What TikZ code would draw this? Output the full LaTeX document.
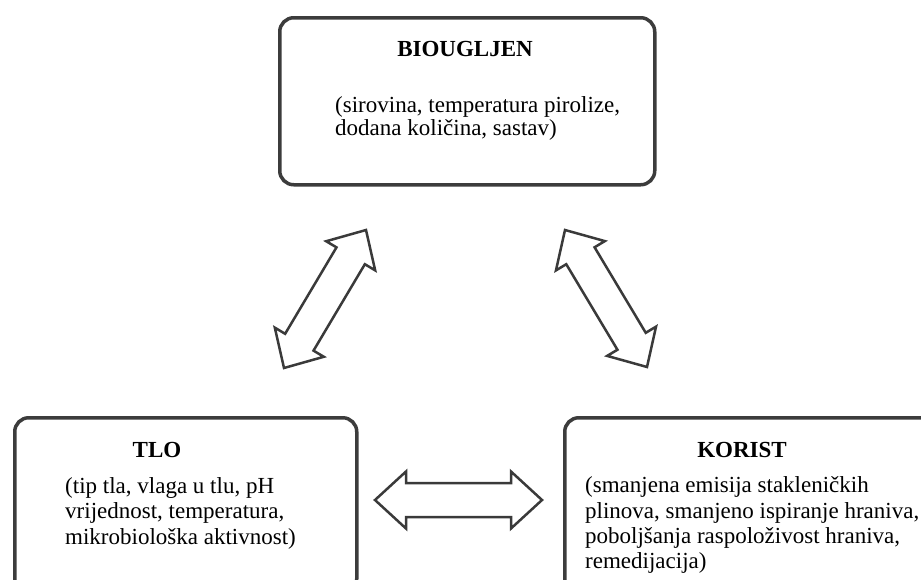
\documentclass[tikz,border=0pt]{standalone}
\usepackage{fontspec}
\setmainfont{Liberation Serif}
\usetikzlibrary{calc}
\definecolor{boxgray}{HTML}{3C3C3C}
\definecolor{arrowgray}{HTML}{3A3A3A}
\newcommand\dblarrow[5]{% A, B, head length, head half width, shaft half width
  \draw[blockarrow] (#1)
    -- ($(#1)!#3!(#2)!#4!90:(#2)$)
    -- ($(#1)!#3!(#2)!#5!90:(#2)$)
    -- ($(#2)!#3!(#1)!#5!-90:(#1)$)
    -- ($(#2)!#3!(#1)!#4!-90:(#1)$)
    -- (#2)
    -- ($(#2)!#3!(#1)!#4!90:(#1)$)
    -- ($(#2)!#3!(#1)!#5!90:(#1)$)
    -- ($(#1)!#3!(#2)!#5!-90:(#2)$)
    -- ($(#1)!#3!(#2)!#4!-90:(#2)$)
    -- cycle;}
\begin{document}
\begin{tikzpicture}[x=1pt,y=-1pt,
  box/.style={draw=boxgray, line width=3.5pt, rounded corners=14pt, fill=white, inner sep=0pt},
  titletext/.style={font=\fontsize{23}{26}\selectfont\bfseries, anchor=base, inner sep=0pt},
  bodytext/.style={font=\fontsize{23}{26}\selectfont, anchor=base west, inner sep=0pt},
  blockarrow/.style={draw=arrowgray, line width=2.5pt, line join=miter, fill=white}]
\useasboundingbox (0,0) rectangle (921,579);
\clip (0,0) rectangle (921,579);

% boxes
\node[box, anchor=north west, minimum width=375pt, minimum height=167pt] (bio) at (278,16) {};
\node[box, anchor=north west, minimum width=342pt, minimum height=175pt] (tlo) at (13,416) {};
\node[box, anchor=north west, minimum width=380pt, minimum height=175pt] (kor) at (563,416) {};

% texts
\node[titletext] (biot) at (465,56) {BIOUGLJEN};
\node[bodytext] (biob1) at (335,112) {(sirovina, temperatura pirolize,};
\node[bodytext] (biob2) at (335,135) {dodana količina, sastav)};

\node[titletext] (tlot) at (157,457) {TLO};
\node[bodytext] (tlob1) at (65,493) {(tip tla, vlaga u tlu, pH};
\node[bodytext] (tlob2) at (65,518) {vrijednost, temperatura,};
\node[bodytext] (tlob3) at (65,544) {mikrobiološka aktivnost)};

\node[titletext] (kort) at (742,457) {KORIST};
\node[bodytext] (korb1) at (585,492) {(smanjena emisija stakleničkih};
\node[bodytext] (korb2) at (585,518) {plinova, smanjeno ispiranje hraniva,};
\node[bodytext] (korb3) at (585,543) {poboljšanja raspoloživost hraniva,};
\node[bodytext] (korb4) at (585,568) {remedijacija)};

% arrows
\coordinate (la1) at (366,230);
\coordinate (la2) at (284,368);
\coordinate (ra1) at (565,230);
\coordinate (ra2) at (647,367);
\coordinate (ha1) at (375,500);
\coordinate (ha2) at (542,500);
\dblarrow{la1}{la2}{30pt}{28.5pt}{16.5pt}
\dblarrow{ra1}{ra2}{30pt}{28.5pt}{16.5pt}
\dblarrow{ha1}{ha2}{31pt}{28.5pt}{17pt}
\end{tikzpicture}
\end{document}
